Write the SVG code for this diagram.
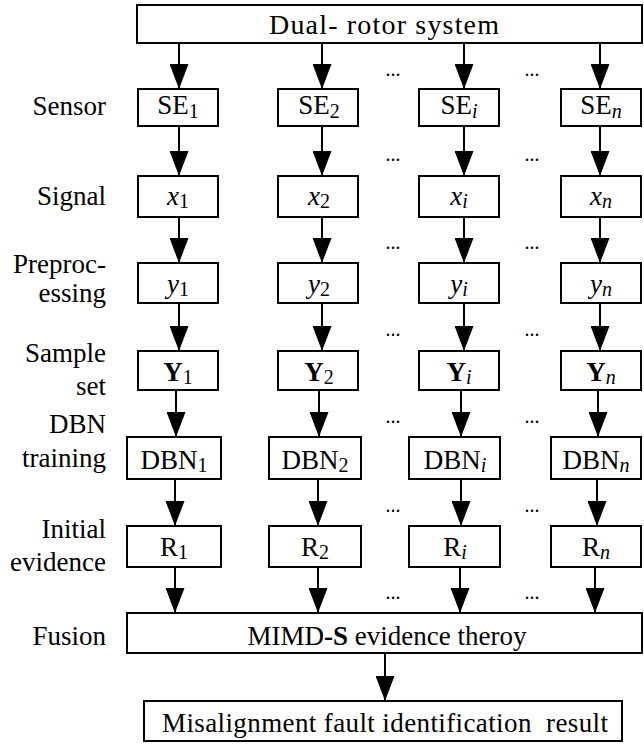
<svg xmlns="http://www.w3.org/2000/svg" width="644" height="744" viewBox="0 0 644 744">
<style>
  .box { fill: #fff; stroke: #000; stroke-width: 2; }
  text { font-family: 'Liberation Serif', 'DejaVu Serif', 'Times New Roman', serif; fill: #000; }
  .t { font-size: 27px; }
  .m { text-anchor: middle; }
  .lbl { text-anchor: end; }
  .sub { font-size: 20px; }
  .it { font-style: italic; }
  .b { font-weight: bold; }
  .dots { font-size: 20px; text-anchor: middle; }
  .conn line { stroke: #000; stroke-width: 2; marker-end: url(#ah); }
</style>
<defs>
  <marker id="ah" markerUnits="userSpaceOnUse" markerWidth="25" markerHeight="19" refX="25" refY="9.5" orient="auto">
    <path d="M0,0 L25,9.5 L0,19 z" fill="#000"/>
  </marker>
</defs>
<rect width="644" height="744" fill="#fff"/>

<g id="connectors" class="conn">
  <line x1="179" y1="43" x2="179" y2="89"/><line x1="322" y1="43" x2="322" y2="89"/><line x1="464" y1="43" x2="464" y2="89"/><line x1="600" y1="43" x2="600" y2="89"/>
  <line x1="179" y1="126" x2="179" y2="176"/><line x1="322" y1="126" x2="322" y2="176"/><line x1="464" y1="126" x2="464" y2="176"/><line x1="600" y1="126" x2="600" y2="176"/>
  <line x1="179" y1="217" x2="179" y2="263"/><line x1="322" y1="217" x2="322" y2="263"/><line x1="464" y1="217" x2="464" y2="263"/><line x1="600" y1="217" x2="600" y2="263"/>
  <line x1="179" y1="303" x2="179" y2="351"/><line x1="322" y1="303" x2="322" y2="351"/><line x1="464" y1="303" x2="464" y2="351"/><line x1="600" y1="303" x2="600" y2="351"/>
  <line x1="176" y1="390" x2="176" y2="437"/><line x1="319" y1="390" x2="319" y2="437"/><line x1="461" y1="390" x2="461" y2="437"/><line x1="598" y1="390" x2="598" y2="437"/>
  <line x1="175" y1="479" x2="175" y2="526"/><line x1="318" y1="479" x2="318" y2="526"/><line x1="461" y1="479" x2="461" y2="526"/><line x1="597" y1="479" x2="597" y2="526"/>
  <line x1="175" y1="567" x2="175" y2="613"/><line x1="318" y1="567" x2="318" y2="613"/><line x1="460" y1="567" x2="460" y2="613"/><line x1="595" y1="567" x2="595" y2="613"/>
  <line x1="385" y1="653" x2="385" y2="701"/>
</g>

<g id="labels">
  <text class="t lbl" x="106" y="115">Sensor</text>
  <text class="t lbl" x="106" y="205">Signal</text>
  <text class="t lbl" x="106" y="273">Preproc-</text>
  <text class="t lbl" x="106" y="302">essing</text>
  <text class="t lbl" x="106" y="362">Sample</text>
  <text class="t lbl" x="106" y="395">set</text>
  <text class="t lbl" x="106" y="433">DBN</text>
  <text class="t lbl" x="106" y="467">training</text>
  <text class="t lbl" x="106" y="538">Initial</text>
  <text class="t lbl" x="106" y="571">evidence</text>
  <text class="t lbl" x="106" y="645">Fusion</text>
</g>

<g id="ellipses">
  <text class="dots" x="393" y="76">...</text><text class="dots" x="532" y="76">...</text>
  <text class="dots" x="393" y="161">...</text><text class="dots" x="532" y="161">...</text>
  <text class="dots" x="393" y="249">...</text><text class="dots" x="532" y="249">...</text>
  <text class="dots" x="393" y="336">...</text><text class="dots" x="532" y="336">...</text>
  <text class="dots" x="393" y="423">...</text><text class="dots" x="532" y="423">...</text>
  <text class="dots" x="393" y="512">...</text><text class="dots" x="532" y="512">...</text>
  <text class="dots" x="393" y="599">...</text><text class="dots" x="532" y="599">...</text>
</g>

<g id="dual-rotor">
  <rect class="box" x="137" y="5" width="505" height="38"/>
  <text class="m" font-size="28" x="384" y="34" textLength="230" lengthAdjust="spacing">Dual- rotor system</text>
</g>

<g id="se1"><rect class="box" x="138" y="89" width="80" height="37"/><text class="t m" x="178" y="114">SE<tspan class="sub" dy="4">1</tspan></text></g>
<g id="se2"><rect class="box" x="278" y="89" width="80" height="37"/><text class="t m" x="319" y="114">SE<tspan class="sub" dy="4">2</tspan></text></g>
<g id="sei"><rect class="box" x="419" y="89" width="80" height="37"/><text class="t m" x="459" y="114">SE<tspan class="sub it" dy="4">i</tspan></text></g>
<g id="sen"><rect class="box" x="561" y="89" width="80" height="37"/><text class="t m" x="601" y="114">SE<tspan class="sub it" dy="4">n</tspan></text></g>

<g id="x1"><rect class="box" x="138" y="176" width="80" height="41"/><text class="t m" x="178" y="205"><tspan class="it">x</tspan><tspan class="sub" dy="3">1</tspan></text></g>
<g id="x2"><rect class="box" x="278" y="176" width="80" height="41"/><text class="t m" x="319" y="205"><tspan class="it">x</tspan><tspan class="sub" dy="3">2</tspan></text></g>
<g id="xi"><rect class="box" x="419" y="176" width="80" height="41"/><text class="t m" x="459" y="205"><tspan class="it">x</tspan><tspan class="sub it" dy="3">i</tspan></text></g>
<g id="xn"><rect class="box" x="561" y="176" width="80" height="41"/><text class="t m" x="601" y="205"><tspan class="it">x</tspan><tspan class="sub it" dy="3">n</tspan></text></g>

<g id="y1"><rect class="box" x="138" y="263" width="80" height="40"/><text class="t m" x="178" y="293"><tspan class="it">y</tspan><tspan class="sub" dy="3">1</tspan></text></g>
<g id="y2"><rect class="box" x="278" y="263" width="80" height="40"/><text class="t m" x="319" y="293"><tspan class="it">y</tspan><tspan class="sub" dy="3">2</tspan></text></g>
<g id="yi"><rect class="box" x="419" y="263" width="80" height="40"/><text class="t m" x="459" y="293"><tspan class="it">y</tspan><tspan class="sub it" dy="3">i</tspan></text></g>
<g id="yn"><rect class="box" x="561" y="263" width="80" height="40"/><text class="t m" x="601" y="293"><tspan class="it">y</tspan><tspan class="sub it" dy="3">n</tspan></text></g>

<g id="Y1"><rect class="box" x="138" y="351" width="80" height="39"/><text class="t m" x="178" y="381"><tspan class="b">Y</tspan><tspan class="sub" dy="3">1</tspan></text></g>
<g id="Y2"><rect class="box" x="278" y="351" width="80" height="39"/><text class="t m" x="319" y="381"><tspan class="b">Y</tspan><tspan class="sub" dy="3">2</tspan></text></g>
<g id="Yi"><rect class="box" x="419" y="351" width="80" height="39"/><text class="t m" x="459" y="381"><tspan class="b">Y</tspan><tspan class="sub it" dy="3">i</tspan></text></g>
<g id="Yn"><rect class="box" x="561" y="351" width="80" height="39"/><text class="t m" x="601" y="381"><tspan class="b">Y</tspan><tspan class="sub it" dy="3">n</tspan></text></g>

<g id="dbn1"><rect class="box" x="127" y="437" width="94" height="42"/><text class="t m" x="174" y="469">DBN<tspan class="sub" dy="3">1</tspan></text></g>
<g id="dbn2"><rect class="box" x="269" y="437" width="92" height="42"/><text class="t m" x="315" y="469">DBN<tspan class="sub" dy="3">2</tspan></text></g>
<g id="dbni"><rect class="box" x="409" y="437" width="91" height="42"/><text class="t m" x="455" y="469">DBN<tspan class="sub it" dy="3">i</tspan></text></g>
<g id="dbnn"><rect class="box" x="551" y="437" width="90" height="42"/><text class="t m" x="596" y="469">DBN<tspan class="sub it" dy="3">n</tspan></text></g>

<g id="r1"><rect class="box" x="127" y="526" width="94" height="41"/><text class="t m" x="174" y="556">R<tspan class="sub" dy="3">1</tspan></text></g>
<g id="r2"><rect class="box" x="269" y="526" width="92" height="41"/><text class="t m" x="315" y="556">R<tspan class="sub" dy="3">2</tspan></text></g>
<g id="ri"><rect class="box" x="409" y="526" width="91" height="41"/><text class="t m" x="455" y="556">R<tspan class="sub it" dy="3">i</tspan></text></g>
<g id="rn"><rect class="box" x="551" y="526" width="90" height="41"/><text class="t m" x="596" y="556">R<tspan class="sub it" dy="3">n</tspan></text></g>

<g id="fusion">
  <rect class="box" x="127" y="613" width="515" height="40"/>
  <text class="t m" x="387" y="645">MIMD<tspan class="b">-S</tspan> evidence theroy</text>
</g>

<g id="result">
  <rect class="box" x="144" y="701" width="478" height="40"/>
  <text class="t m" x="385" y="732" textLength="446" lengthAdjust="spacing" xml:space="preserve">Misalignment fault identification  result</text>
</g>
</svg>
